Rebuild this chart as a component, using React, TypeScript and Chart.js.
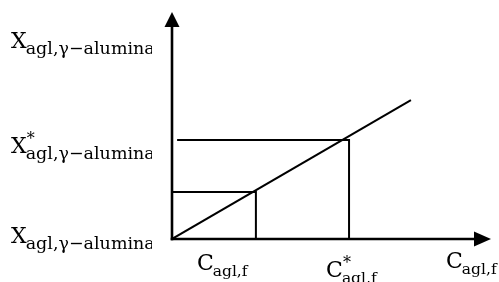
import { useEffect, useRef } from "react";
import { Chart, registerables } from "chart.js";

Chart.register(...registerables);

// Schematic values (data units)
const axisMax = 10;
const diagonalX = [0, 7.49];
const diagonalY = [0, 6.12];
const lowGuideX = [0, 2.63, 2.63];
const lowGuideY = [2.07, 2.07, 0];
const highGuideX = [0.16, 5.55, 5.55];
const highGuideY = [4.36, 4.36, 0];

// Labels
const yLabelMain = "X";
const yLabelSups = ["", "*", ""];
const yLabelSub = "agl,γ−alumina";
const yLabelAnchors = [axisMax, highGuideY[0], 0];

const xLabelMain = "C";
const xLabelSups = ["", "*", ""];
const xLabelSub = "agl,f";
const xLabelAnchors = [lowGuideX[1], highGuideX[1], axisMax];

const FONT = "'DejaVu Serif', serif";

function toPoints(xs: number[], ys: number[]) {
  return xs.map((x, i) => ({ x, y: ys[i] }));
}

function drawMath(
  ctx: CanvasRenderingContext2D,
  x: number,
  baseline: number,
  main: string,
  sup: string,
  sub: string,
  subSize: number
) {
  ctx.fillStyle = "#000";
  ctx.textBaseline = "alphabetic";
  ctx.textAlign = "left";
  ctx.font = `22px ${FONT}`;
  ctx.fillText(main, x, baseline);
  const w = ctx.measureText(main).width;
  if (sup) {
    ctx.font = `16px ${FONT}`;
    ctx.fillText(sup, x + w, baseline - 9);
  }
  ctx.font = `${subSize}px ${FONT}`;
  ctx.fillText(sub, x + w - 1, baseline + 5.5);
}

const diagramPlugin = {
  id: "diagram",
  afterDatasetsDraw(chart: any) {
    const ctx: CanvasRenderingContext2D = chart.ctx;
    const xs = chart.scales.x;
    const ys = chart.scales.y;
    const ox = xs.getPixelForValue(0);
    const oy = ys.getPixelForValue(0);
    const tx = xs.getPixelForValue(axisMax);
    const ty = ys.getPixelForValue(axisMax);
    ctx.save();
    ctx.strokeStyle = "#000";
    ctx.fillStyle = "#000";
    ctx.lineWidth = 2.6;
    ctx.lineCap = "butt";
    // y axis
    ctx.beginPath();
    ctx.moveTo(ox, oy + 1.3);
    ctx.lineTo(ox, ty + 10);
    ctx.stroke();
    // x axis
    ctx.beginPath();
    ctx.moveTo(ox - 1.3, oy);
    ctx.lineTo(tx - 10, oy);
    ctx.stroke();
    // arrowheads
    ctx.beginPath();
    ctx.moveTo(ox, ty);
    ctx.lineTo(ox - 7.5, ty + 15);
    ctx.lineTo(ox + 7.5, ty + 15);
    ctx.closePath();
    ctx.fill();
    ctx.beginPath();
    ctx.moveTo(tx, oy);
    ctx.lineTo(tx - 17, oy - 7.5);
    ctx.lineTo(tx - 17, oy + 7.5);
    ctx.closePath();
    ctx.fill();

    // y labels (clipped like the reference)
    const yOffsets = [36, 13, 4];
    ctx.save();
    ctx.beginPath();
    ctx.rect(0, 0, 152, chart.height);
    ctx.clip();
    yLabelAnchors.forEach((v, i) => {
      drawMath(ctx, 11, ys.getPixelForValue(v) + yOffsets[i], yLabelMain, yLabelSups[i], yLabelSub, 17.5);
    });
    ctx.restore();

    // x labels
    const xOffsets = [-59, -23, -45];
    const xBase = [31, 38, 29];
    xLabelAnchors.forEach((v, i) => {
      drawMath(ctx, xs.getPixelForValue(v) + xOffsets[i], oy + xBase[i], xLabelMain, xLabelSups[i], xLabelSub, 15.5);
    });
    ctx.restore();
  },
};

export default function App() {
  const ref = useRef<HTMLCanvasElement | null>(null);
  useEffect(() => {
    document.body.style.margin = "0";
    const canvas = ref.current!;
    const lineStyle = {
      borderColor: "#000",
      borderWidth: 2,
      pointRadius: 0,
      showLine: true,
      fill: false,
      tension: 0,
    };
    const chart = new Chart(canvas, {
      type: "scatter",
      data: {
        datasets: [
          { ...lineStyle, data: toPoints(diagonalX, diagonalY) },
          { ...lineStyle, data: toPoints(lowGuideX, lowGuideY) },
          { ...lineStyle, data: toPoints(highGuideX, highGuideY) },
        ],
      },
      options: {
        responsive: false,
        animation: false,
        devicePixelRatio: 1,
        layout: { padding: { left: 172, right: 8, top: 12, bottom: 43 } },
        plugins: { legend: { display: false }, tooltip: { enabled: false } },
        scales: {
          x: { type: "linear", min: 0, max: axisMax, display: false },
          y: { type: "linear", min: 0, max: axisMax, display: false },
        },
      },
      plugins: [diagramPlugin],
    });
    return () => chart.destroy();
  }, []);
  return (
    <div style={{ width: 499, height: 282, background: "#fff" }}>
      <canvas ref={ref} width={499} height={282} style={{ display: "block" }} />
    </div>
  );
}
